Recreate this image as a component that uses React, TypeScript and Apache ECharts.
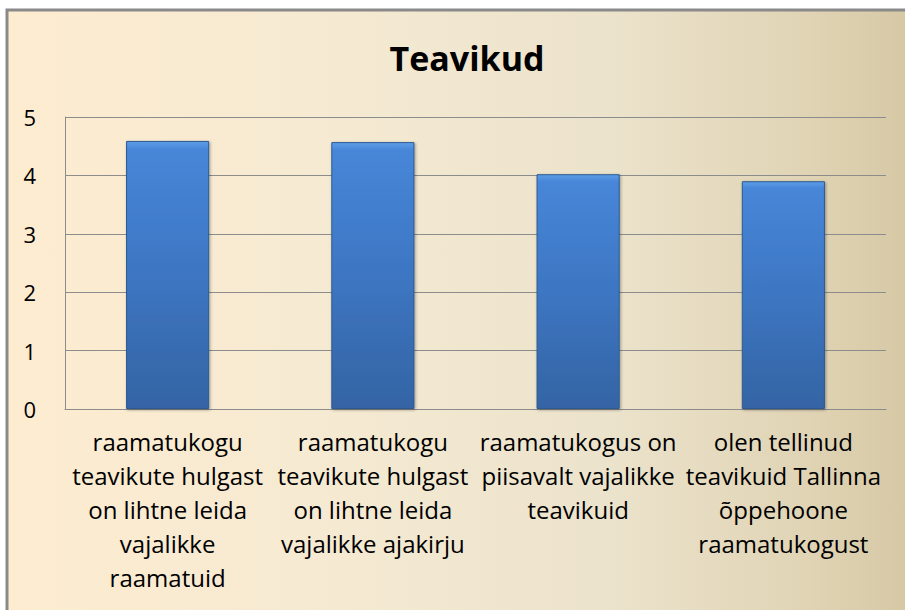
import React, { useEffect, useRef } from "react";
import * as echarts from "echarts";

const title = "Teavikud";
const categories = [
  "raamatukogu\nteavikute hulgast\non lihtne leida\nvajalikke\nraamatuid",
  "raamatukogu\nteavikute hulgast\non lihtne leida\nvajalikke ajakirju",
  "raamatukogus on\npiisavalt vajalikke\nteavikuid",
  "olen tellinud\nteavikuid Tallinna\nõppehoone\nraamatukogust",
];
const values = [4.59, 4.57, 4.02, 3.9];
const yTicks = [0, 1, 2, 3, 4, 5];

const FONT = "'Open Sans', Lato, sans-serif";

export default function App() {
  const ref = useRef<HTMLDivElement>(null);
  useEffect(() => {
    if (!ref.current) return;
    const chart = echarts.init(ref.current, null, { renderer: "svg" });
    chart.setOption({
      animation: false,
      backgroundColor: "#ffffff",
      graphic: [
        {
          type: "rect",
          z: -10,
          silent: true,
          shape: { x: 7, y: 10, width: 1000, height: 700 },
          style: {
            fill: new echarts.graphic.LinearGradient(0, 0, 1, 0, [
              { offset: 0, color: "#fdecd0" },
              { offset: 0.3, color: "#f6ead2" },
              { offset: 0.6, color: "#ece3cc" },
              { offset: 0.8, color: "#e0d4b5" },
              { offset: 1, color: "#cdbd95" },
            ]),
            stroke: "#8a8a8a",
            lineWidth: 3,
          },
        },
      ],
      title: {
        text: title,
        left: 462,
        textAlign: "center",
        top: 33,
        textStyle: {
          fontFamily: FONT,
          fontWeight: "bold",
          fontSize: 34,
          lineHeight: 40,
          color: "#000",
        },
      },
      grid: { left: 65, top: 117, right: 19, bottom: 201, containLabel: false },
      xAxis: {
        type: "category",
        data: categories,
        axisLine: { show: true, lineStyle: { color: "#8c8c8c", width: 1 } },
        axisTick: { show: false },
        axisLabel: {
          interval: 0,
          margin: 15,
          fontFamily: FONT,
          fontSize: 24,
          lineHeight: 34,
          color: "#000",
          align: "center",
        },
      },
      yAxis: {
        type: "value",
        min: 0,
        max: 5,
        interval: 1,
        axisLine: { show: true, lineStyle: { color: "#8c8c8c", width: 1 } },
        axisTick: { show: false },
        splitLine: { show: true, lineStyle: { color: "#8c8c8c", width: 1 } },
        axisLabel: {
          margin: 29,
          fontFamily: FONT,
          fontSize: 22,
          color: "#000",
          formatter: (v: number) => (yTicks.includes(v) ? String(v) : ""),
        },
      },
      series: [
        {
          type: "bar",
          data: values,
          barWidth: "40.5%",
          itemStyle: {
            color: new echarts.graphic.LinearGradient(0, 0, 0, 1, [
              { offset: 0, color: "#5d9de6" },
              { offset: 0.03, color: "#4786d8" },
              { offset: 0.5, color: "#3d76c2" },
              { offset: 1, color: "#3464a4" },
            ]),
            borderColor: "#2d5a92",
            borderWidth: 1,
            shadowColor: "rgba(0,0,0,0.35)",
            shadowBlur: 3,
            shadowOffsetX: 1,
            shadowOffsetY: 1,
          },
        },
      ],
    });
    return () => chart.dispose();
  }, []);
  return (
    <div
      ref={ref}
      style={{ position: "fixed", left: 0, top: 0, width: 905, height: 610 }}
    />
  );
}
